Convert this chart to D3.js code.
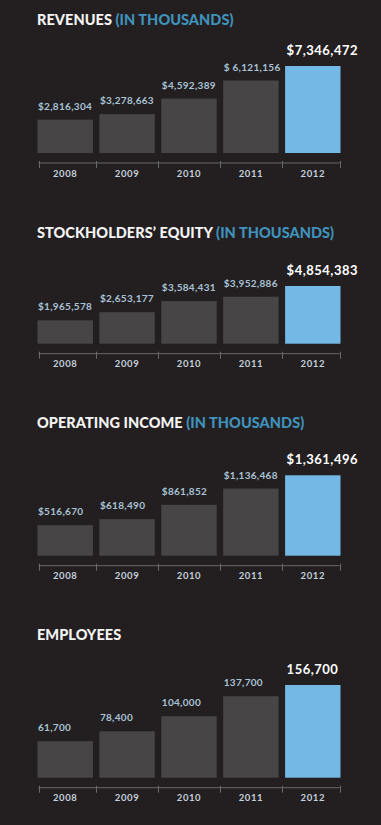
<!DOCTYPE html>
<html><head><meta charset="utf-8">
<script src="https://cdn.jsdelivr.net/npm/d3@7"></script>
<style>html,body{margin:0;padding:0;background:#231f20;overflow:hidden} svg{display:block}</style>
</head><body>
<script>
// ---- data ----
const years = ["2008", "2009", "2010", "2011", "2012"];
const revenues = [2816304, 3278663, 4592389, 6121156, 7346472];
const revenueLabels = ["$2,816,304", "$3,278,663", "$4,592,389", "$ 6,121,156", "$7,346,472"];
const equity = [1965578, 2653177, 3584431, 3952886, 4854383];
const equityLabels = ["$1,965,578", "$2,653,177", "$3,584,431", "$3,952,886", "$4,854,383"];
const operatingIncome = [516670, 618490, 861852, 1136468, 1361496];
const operatingLabels = ["$516,670", "$618,490", "$861,852", "$1,136,468", "$1,361,496"];
const employees = [61700, 78400, 104000, 137700, 156700];
const employeeLabels = ["61,700", "78,400", "104,000", "137,700", "156,700"];
const titleMain = ["REVENUES", "STOCKHOLDERS\u2019 EQUITY", "OPERATING INCOME", "EMPLOYEES"];
const titleNote = [" (IN THOUSANDS)", " (IN THOUSANDS)", " (IN THOUSANDS)", ""];

// ---- layout (positions only) ----
const W = 381, H = 825;
const panels = [
  {values: revenues, labels: revenueLabels, titleY: 25, bottom: 153, maxH: 87},
  {values: equity, labels: equityLabels, titleY: 238.3, bottom: 343.7, maxH: 57.7},
  {values: operatingIncome, labels: operatingLabels, titleY: 428.3, bottom: 555.7, maxH: 80.4},
  {values: employees, labels: employeeLabels, titleY: 640, bottom: 777.7, maxH: 92.7}
];

const FONT = "Lato, 'Open Sans', sans-serif";
const C = {bg: "#231f20", bar: "#474546", hi: "#74b9e6", title: "#f4f4f4", note: "#3f92bc",
           label: "#a9c3d6", top: "#ffffff", axis: "#6b6869", year: "#c3d1dc"};

const svg = d3.select("body").append("svg").attr("width", W).attr("height", H);
svg.append("rect").attr("width", W).attr("height", H).attr("fill", C.bg);

const x = d3.scaleBand().domain(years).range([37.5, 340.5]).paddingInner(0.105).paddingOuter(0);

panels.forEach((p, i) => {
  const g = svg.append("g");
  const y = d3.scaleLinear().domain([0, d3.max(p.values)]).range([p.bottom, p.bottom - p.maxH]);
  const data = years.map((yr, j) => ({year: yr, value: p.values[j], label: p.labels[j], last: j === years.length - 1}));

  // title
  const t = g.append("text").attr("x", 37).attr("y", p.titleY)
    .attr("font-family", FONT).attr("font-weight", 900).attr("font-size", 14.5).attr("letter-spacing", 0.05);
  t.append("tspan").attr("fill", C.title).text(titleMain[i]);
  if (titleNote[i]) t.append("tspan").attr("fill", C.note).text(titleNote[i]);

  // bars
  g.selectAll("rect.bar").data(data).join("rect").attr("class", "bar")
    .attr("x", d => x(d.year)).attr("width", x.bandwidth())
    .attr("y", d => y(d.value)).attr("height", d => y(0) - y(d.value))
    .attr("fill", d => d.last ? C.hi : C.bar);

  // value labels
  g.selectAll("text.val").data(data).join("text").attr("class", "val")
    .attr("x", d => x(d.year) + (d.last ? 1.5 : 0.5))
    .attr("y", d => y(d.value) - (d.last ? 11 : 10))
    .attr("font-family", FONT).attr("font-weight", 700)
    .attr("font-size", d => d.last ? 13 : 10)
    .attr("letter-spacing", d => d.last ? 0.5 : 0.3)
    .attr("fill", d => d.last ? C.top : C.label)
    .text(d => d.label);

  // axis
  const axisY = p.bottom + 10;
  const step = x.step();
  const bounds = years.map(yr => x(yr) - (step - x.bandwidth()) / 2);
  bounds[0] = x(years[0]) + 1;
  bounds.push(x(years[years.length - 1]) + x.bandwidth() - 1);
  const ag = g.append("g").attr("transform", `translate(0,${axisY})`);
  ag.append("line").attr("x1", bounds[0]).attr("x2", bounds[bounds.length - 1])
    .attr("stroke", C.axis).attr("stroke-width", 1);
  ag.selectAll("line.tick").data(bounds).join("line").attr("class", "tick")
    .attr("x1", d => Math.round(d) + 0.5).attr("x2", d => Math.round(d) + 0.5)
    .attr("y1", -2).attr("y2", 5).attr("stroke", C.axis).attr("stroke-width", 1);

  ag.selectAll("text.year").data(years).join("text").attr("class", "year")
    .attr("x", d => x(d) + x.bandwidth() / 2).attr("y", 13.5)
    .attr("text-anchor", "middle")
    .attr("font-family", FONT).attr("font-weight", 700).attr("font-size", 9.5).attr("letter-spacing", 0.6)
    .attr("fill", C.year).text(d => d);
});
</script>
</body></html>
